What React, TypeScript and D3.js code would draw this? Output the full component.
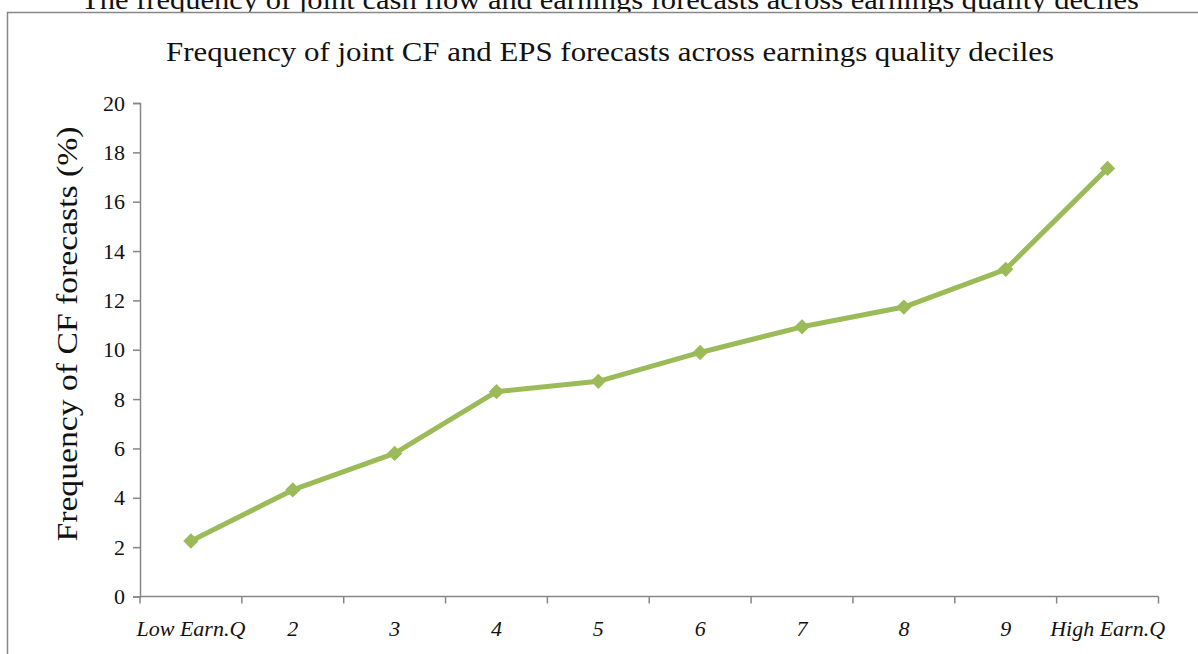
import React, { useEffect, useRef } from "react";
import * as d3 from "d3";

const width = 1198;
const height = 654;

// Earnings quality deciles
const categories = ["Low Earn.Q", "2", "3", "4", "5", "6", "7", "8", "9", "High Earn.Q"];
// Frequency of CF forecasts (%)
const frequency = [2.25, 4.32, 5.8, 8.3, 8.72, 9.89, 10.93, 11.73, 13.26, 17.35];
const yTicks = [0, 2, 4, 6, 8, 10, 12, 14, 16, 18, 20];

const outerTitle = "The frequency of joint cash flow and earnings forecasts across earnings quality deciles";
const chartTitle = "Frequency of joint CF and EPS forecasts across earnings quality deciles";
const yLabel = "Frequency of CF forecasts (%)";

const font = "'Liberation Serif', 'DejaVu Serif', serif";
const axisColor = "#878787";
const lineColor = "#9BBB59";

const App: React.FC = () => {
  const svgRef = useRef<SVGSVGElement | null>(null);

  useEffect(() => {
    if (!svgRef.current) return;
    const svg = d3.select(svgRef.current);
    svg.selectAll("*").remove();

    const left = 140;
    const right = 1158.5;
    const top = 103;
    const bottom = 596.5;

    const x = d3.scaleBand<string>().domain(categories).range([left, right]);
    const y = d3.scaleLinear().domain([0, 20]).range([bottom, top]);

    // heading clipped off at the top
    svg
      .append("text")
      .attr("x", 610)
      .attr("y", 9)
      .attr("text-anchor", "middle")
      .attr("font-family", font)
      .attr("font-size", 27)
      .attr("textLength", 1058)
      .attr("lengthAdjust", "spacingAndGlyphs")
      .attr("fill", "#111")
      .text(outerTitle);

    // chart frame (runs off the right and bottom)
    svg
      .append("rect")
      .attr("x", 7.5)
      .attr("y", 12.5)
      .attr("width", 1200)
      .attr("height", 700)
      .attr("fill", "white")
      .attr("stroke", axisColor)
      .attr("stroke-width", 1.5);

    svg
      .append("text")
      .attr("x", 610)
      .attr("y", 61)
      .attr("text-anchor", "middle")
      .attr("font-family", font)
      .attr("font-size", 28)
      .attr("textLength", 888)
      .attr("lengthAdjust", "spacingAndGlyphs")
      .attr("fill", "#111")
      .text(chartTitle);

    // y axis
    const yAxis = svg
      .append("g")
      .attr("transform", `translate(${left},0)`)
      .call(d3.axisLeft(y).tickValues(yTicks).tickSize(7).tickPadding(8).tickFormat(d3.format("d")));
    yAxis.select(".domain").attr("stroke", axisColor).attr("stroke-width", 1.5);
    yAxis.selectAll(".tick line").attr("stroke", axisColor).attr("stroke-width", 1.5);
    yAxis
      .selectAll(".tick text")
      .attr("font-family", font)
      .attr("font-size", 22)
      .attr("fill", "#111");

    // x axis with ticks on band edges
    const xAxis = svg.append("g").attr("transform", `translate(0,${bottom})`);
    xAxis
      .append("line")
      .attr("x1", left)
      .attr("x2", right)
      .attr("stroke", axisColor)
      .attr("stroke-width", 1.5);
    const edges = categories.map((c) => x(c) as number).concat([right]);
    xAxis
      .selectAll("line.tick")
      .data(edges)
      .enter()
      .append("line")
      .attr("class", "tick")
      .attr("x1", (d) => d)
      .attr("x2", (d) => d)
      .attr("y1", 0)
      .attr("y2", 7)
      .attr("stroke", axisColor)
      .attr("stroke-width", 1.5);
    xAxis
      .selectAll("text")
      .data(categories)
      .enter()
      .append("text")
      .attr("x", (d) => (x(d) as number) + x.bandwidth() / 2)
      .attr("y", 39)
      .attr("text-anchor", "middle")
      .attr("font-family", font)
      .attr("font-style", "italic")
      .attr("font-size", 22)
      .attr("fill", "#111")
      .text((d) => d);

    // y label
    svg
      .append("text")
      .attr("transform", `translate(77,334) rotate(-90)`)
      .attr("text-anchor", "middle")
      .attr("font-family", font)
      .attr("font-size", 30)
      .attr("textLength", 415)
      .attr("lengthAdjust", "spacingAndGlyphs")
      .attr("fill", "#111")
      .text(yLabel);

    // series
    const pts = categories.map((c, i) => ({ x: (x(c) as number) + x.bandwidth() / 2, y: y(frequency[i]) }));
    const line = d3
      .line<{ x: number; y: number }>()
      .x((d) => d.x)
      .y((d) => d.y);

    svg
      .append("path")
      .attr("d", line(pts))
      .attr("fill", "none")
      .attr("stroke", lineColor)
      .attr("stroke-width", 5)
      .attr("stroke-linejoin", "round");

    svg
      .selectAll("path.marker")
      .data(pts)
      .enter()
      .append("path")
      .attr("class", "marker")
      .attr("d", d3.symbol().type(d3.symbolDiamond2).size(150)())
      .attr("transform", (d) => `translate(${d.x},${d.y})`)
      .attr("fill", lineColor);

    return () => {
      svg.selectAll("*").remove();
    };
  }, []);

  return (
    <svg
      ref={svgRef}
      width={width}
      height={height}
      style={{ position: "absolute", left: 0, top: 0, background: "white" }}
    />
  );
};

export default App;
